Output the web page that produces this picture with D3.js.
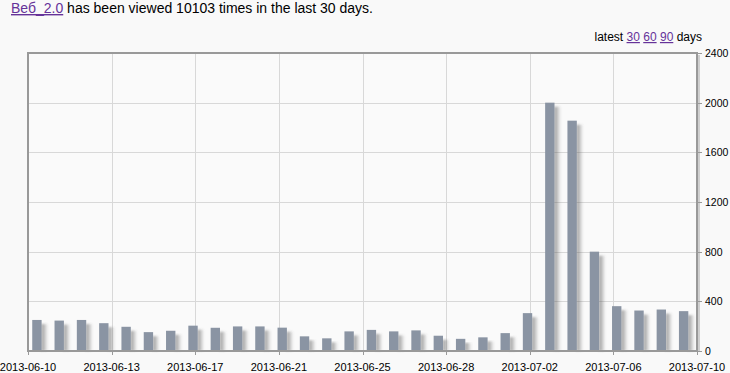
<!DOCTYPE html>
<html>
<head>
<meta charset="utf-8">
<script src="https://cdn.jsdelivr.net/npm/d3@7"></script>
<style>
  body { margin: 0; background: #f9f9f9; font-family: Arial, "Liberation Sans", sans-serif; }
  #chart { position: absolute; left: 0; top: 0; }
</style>
</head>
<body>
<svg id="chart" width="730" height="373"></svg>
<script>
// daily page views, 2013-06-10 .. 2013-07-09
var days = ['2013-06-10','2013-06-11','2013-06-12','2013-06-13','2013-06-14','2013-06-15','2013-06-16','2013-06-17','2013-06-18','2013-06-19',
            '2013-06-20','2013-06-21','2013-06-22','2013-06-23','2013-06-24','2013-06-25','2013-06-26','2013-06-27','2013-06-28','2013-06-29',
            '2013-06-30','2013-07-01','2013-07-02','2013-07-03','2013-07-04','2013-07-05','2013-07-06','2013-07-07','2013-07-08','2013-07-09'];
var views = [250, 245, 250, 224, 195, 152, 163, 204, 187, 198,
             198, 188, 118, 102, 158, 170, 158, 166, 123, 98,
             110, 144, 305, 2000, 1855, 800, 361, 326, 334, 321];
var xTickLabels = ['2013-06-10','2013-06-13','2013-06-17','2013-06-21','2013-06-25','2013-06-28','2013-07-02','2013-07-06','2013-07-10'];
var yTicks = [0, 400, 800, 1200, 1600, 2000, 2400];
var periods = ['30', '60', '90'];

var svg = d3.select('#chart');

var plotLeft = 28, plotRight = 697, plotTop = 53, plotBottom = 351;

var x = d3.scaleLinear().domain([0, days.length]).range([plotLeft, plotRight]);
var y = d3.scaleLinear().domain([0, 2400]).range([plotBottom, plotTop]);

// title line
var title = svg.append('text')
      .attr('x', 11)
      .attr('y', 13)
      .attr('font-size', 14)
      .attr('fill', '#000');
title.append('tspan')
      .attr('fill', '#663399')
      .attr('text-decoration', 'underline')
      .text('Веб_2.0');
title.append('tspan')
      .text(' has been viewed ' + d3.sum(views) + ' times in the last ' + days.length + ' days.');

// latest 30 60 90 days
var latest = svg.append('text')
      .attr('x', 702)
      .attr('y', 41)
      .attr('text-anchor', 'end')
      .attr('font-size', 12)
      .attr('fill', '#000');
latest.append('tspan').text('latest');
periods.forEach(function(p){
  latest.append('tspan').text(' ');
  latest.append('tspan')
        .attr('fill', '#663399')
        .attr('text-decoration', 'underline')
        .text(p);
});
latest.append('tspan').text(' days');

var defs = svg.append('defs');
var grad = defs.append('linearGradient')
      .attr('id', 'shade')
      .attr('x1', 0).attr('x2', 1).attr('y1', 0).attr('y2', 0);
grad.append('stop').attr('offset', '0%').attr('stop-color', '#555').attr('stop-opacity', 0.6);
grad.append('stop').attr('offset', '100%').attr('stop-color', '#555').attr('stop-opacity', 0.0);
defs.append('filter')
      .attr('id', 'blur')
      .attr('x', '-50%').attr('width', '200%')
      .append('feGaussianBlur')
      .attr('stdDeviation', 0.8);

// plot background
svg.append('rect')
      .attr('x', plotLeft).attr('y', plotTop)
      .attr('width', plotRight - plotLeft).attr('height', plotBottom - plotTop)
      .attr('fill', '#fafafa');

// grid
var xTickIdx = xTickLabels.map(function(d, i){ return i * days.length / (xTickLabels.length - 1); });
svg.append('g').selectAll('line')
      .data(xTickIdx.slice(1, -1))
      .enter()
      .append('line')
      .attr('x1', function(d){ return Math.round(x(d)) + 0.5; })
      .attr('x2', function(d){ return Math.round(x(d)) + 0.5; })
      .attr('y1', plotTop).attr('y2', plotBottom)
      .attr('stroke', '#d8d8d8');
svg.append('g').selectAll('line')
      .data(yTicks.slice(1, -1))
      .enter()
      .append('line')
      .attr('x1', plotLeft).attr('x2', plotRight)
      .attr('y1', function(d){ return Math.round(y(d)) + 0.5; })
      .attr('y2', function(d){ return Math.round(y(d)) + 0.5; })
      .attr('stroke', '#d8d8d8');

// bars with shadows
var bars = svg.append('g');
bars.selectAll('rect.shadow')
      .data(views)
      .enter()
      .append('rect')
      .attr('class', 'shadow')
      .attr('x', function(d, i){ return x(i + 0.6); })
      .attr('y', function(d){ return y(d) + 4; })
      .attr('width', x(0.3) - x(0))
      .attr('height', function(d){ return plotBottom - y(d) - 4; })
      .attr('fill', 'url(#shade)')
      .attr('filter', 'url(#blur)');
bars.selectAll('rect.bar')
      .data(views)
      .enter()
      .append('rect')
      .attr('class', 'bar')
      .attr('x', function(d, i){ return x(i + 0.19); })
      .attr('y', function(d){ return y(d); })
      .attr('width', x(0.42) - x(0))
      .attr('height', function(d){ return plotBottom - y(d); })
      .attr('fill', '#8a94a3');

// right border shadow
svg.append('rect')
      .attr('x', plotRight + 1).attr('y', plotTop + 2)
      .attr('width', 2).attr('height', plotBottom - plotTop - 1)
      .attr('fill', '#cfcfcf');

// frame
svg.append('rect')
      .attr('x', plotLeft).attr('y', plotTop)
      .attr('width', plotRight - plotLeft).attr('height', plotBottom - plotTop)
      .attr('fill', 'none')
      .attr('stroke', '#999')
      .attr('stroke-width', 2);

// x ticks and labels
var xt = svg.append('g').selectAll('g')
      .data(xTickIdx)
      .enter()
      .append('g');
xt.append('line')
      .attr('x1', function(d){ return Math.round(x(d)) + 0.5; })
      .attr('x2', function(d){ return Math.round(x(d)) + 0.5; })
      .attr('y1', plotBottom).attr('y2', plotBottom + 4)
      .attr('stroke', '#999');
xt.append('text')
      .attr('x', function(d){ return x(d); })
      .attr('y', 371)
      .attr('text-anchor', 'middle')
      .attr('font-size', 11)
      .attr('fill', '#000')
      .text(function(d, i){ return xTickLabels[i]; });

// y ticks and labels on the right
var yt = svg.append('g').selectAll('g')
      .data(yTicks)
      .enter()
      .append('g');
yt.append('line')
      .attr('x1', plotRight).attr('x2', plotRight + 5)
      .attr('y1', function(d){ return Math.round(y(d)) + 0.5; })
      .attr('y2', function(d){ return Math.round(y(d)) + 0.5; })
      .attr('stroke', '#999');
yt.append('text')
      .attr('x', 705)
      .attr('y', function(d){ return y(d) + 4; })
      .attr('font-size', 10.5)
      .attr('fill', '#000')
      .text(function(d){ return d; });
</script>
</body>
</html>
